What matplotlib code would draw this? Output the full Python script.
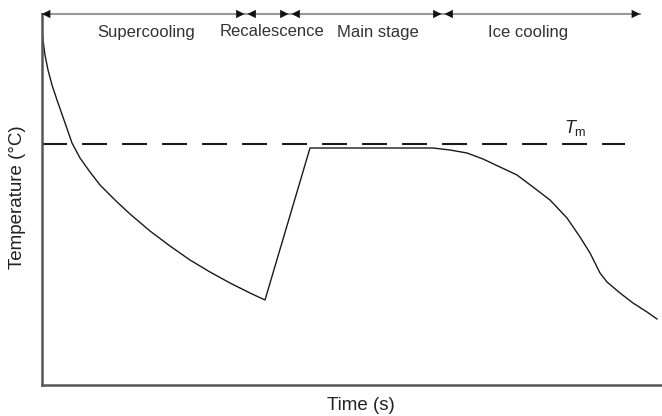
import matplotlib
matplotlib.use("Agg")
import matplotlib.pyplot as plt
import numpy as np

plt.rcParams['font.family'] = ['Liberation Sans', 'DejaVu Sans']
plt.rcParams['mathtext.fontset'] = 'custom'
plt.rcParams['mathtext.it'] = 'Liberation Sans:italic'
plt.rcParams['mathtext.rm'] = 'Liberation Sans'

# Temperature history (arbitrary units)
time = [0, 1, 3, 6, 10, 15, 22, 30, 38, 48, 58, 73, 88, 108, 128, 148, 168, 188, 208, 223,
        268, 391, 408, 425, 441, 458, 475, 491, 508, 525, 538, 548, 558, 565, 578, 591, 605, 615]
temperature = [355, 345, 330, 315, 300, 285, 265, 242, 227, 213, 200, 185, 171, 154, 139, 125, 113, 102, 92, 85,
               237, 237, 235, 232, 226, 218, 210, 198, 185, 167, 148, 132, 112, 103, 92, 82, 73, 66]

tm_value = 241
tm_span = [0, 583]

stage_names = ["Supercooling", "Recalescence", "Main stage", "Ice cooling"]
stage_bounds = [0, 204, 248, 401, 598]

W, H = 662, 416
fig = plt.figure(figsize=(W / 100, H / 100), dpi=100)
left_px, right_px, top_px, bottom_px = 42, 662, 14, 385
ax = fig.add_axes([left_px / W, (H - bottom_px) / H,
                   (right_px - left_px) / W, (bottom_px - top_px) / H])
ax.set_xlim(0, right_px - left_px)
ax.set_ylim(0, bottom_px - top_px)

ax.plot(time, temperature, color='#1a1a1a', lw=1.0, solid_joinstyle='round')
ax.plot(tm_span, [tm_value, tm_value], color='#1a1a1a', lw=1.5,
        linestyle=(0, (12, 7.2)))

for s in ['top', 'right']:
    ax.spines[s].set_visible(False)
for s in ['left', 'bottom']:
    ax.spines[s].set_color('#555555')
    ax.spines[s].set_linewidth(1.8)
ax.set_xticks([])
ax.set_yticks([])

# stage arrows along top
ytop = bottom_px - top_px
ax.plot([stage_bounds[0], stage_bounds[-1]], [ytop, ytop], color='#999999',
        lw=1.5, clip_on=False, zorder=2)
def head(x, direction):
    ax.annotate('', xy=(x, ytop), xytext=(x - direction * 9, ytop),
                arrowprops=dict(arrowstyle='-|>,head_length=0.6,head_width=0.3',
                                color='#111111', lw=0.01, shrinkA=0, shrinkB=0),
                annotation_clip=False, zorder=3)
head(stage_bounds[0], -1)
head(stage_bounds[-1], 1)
for b in stage_bounds[1:-1]:
    head(b - 1.5, 1)
    head(b + 1.5, -1)

label_x = [104, 230, 336, 486]
for name, lx in zip(stage_names, label_x):
    ax.text(lx, ytop - 18, name, ha='center', va='center', fontsize=12,
            color='#333333', clip_on=False)

ax.text(533, 257, r'$T_{\mathrm{m}}$', ha='center', va='center', fontsize=13,
        color='#222222')

fig.text(18 / W, 1 - 197 / H, 'Temperature (°C)', rotation=90, ha='center',
         va='center', fontsize=13.5, color='#222222')
fig.text(361 / W, 1 - 406 / H, 'Time (s)', ha='center', va='center',
         fontsize=13.5, color='#222222')

fig.savefig('out.png', dpi=100)
